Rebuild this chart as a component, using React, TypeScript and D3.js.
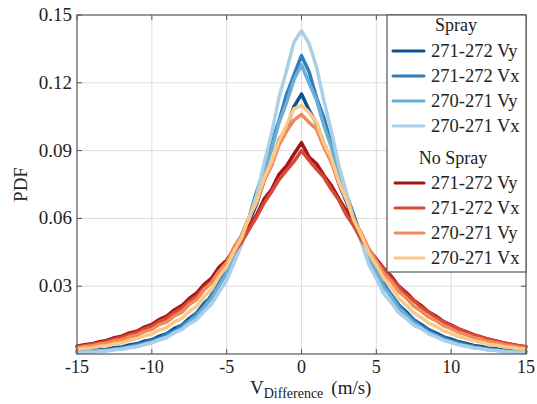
import React from "react";
import * as d3 from "d3";

const W = 537, H = 404;
const M = { left: 77, right: 526, top: 15, bottom: 354 };

const xStart = -15, xStep = 0.5;

// Spray series
const spray271Vy = [
  0.0010,0.0013,0.0014,0.0019,0.0021,0.0028,0.0031,0.0040,0.0045,0.0057,0.0063,0.0079,0.0090,0.0113,0.0127,0.0158,0.0182,0.0224,0.0256,0.0315,0.0365,0.0436,0.0494,0.0585,0.0664,0.0768,0.0842,0.0948,0.1000,0.1095,0.1150,
  0.1080,0.1020,0.0932,0.0856,0.0752,0.0675,0.0575,0.0505,0.0425,0.0372,0.0306,0.0262,0.0217,0.0187,0.0152,0.0131,0.0108,0.0093,0.0076,0.0066,0.0054,0.0047,0.0038,0.0033,0.0026,0.0023,0.0018,0.0015,0.0012,0.0010,
];
const spray271Vx = [
  0.0009,0.0010,0.0013,0.0014,0.0019,0.0021,0.0028,0.0032,0.0041,0.0048,0.0060,0.0070,0.0088,0.0102,0.0127,0.0148,0.0183,0.0212,0.0263,0.0306,0.0374,0.0435,0.0526,0.0604,0.0718,0.0812,0.0938,0.1032,0.1148,0.1235,0.1320,
  0.1250,0.1135,0.1045,0.0925,0.0825,0.0705,0.0615,0.0515,0.0445,0.0365,0.0313,0.0256,0.0218,0.0177,0.0151,0.0123,0.0105,0.0084,0.0072,0.0058,0.0050,0.0039,0.0034,0.0026,0.0022,0.0017,0.0015,0.0012,0.0010,0.0008,
];
const spray270Vy = [
  0.0007,0.0010,0.0010,0.0014,0.0015,0.0021,0.0023,0.0031,0.0035,0.0045,0.0052,0.0066,0.0076,0.0097,0.0113,0.0143,0.0168,0.0209,0.0246,0.0305,0.0356,0.0436,0.0505,0.0606,0.0694,0.0806,0.0905,0.1025,0.1112,0.1215,0.1280,
  0.1200,0.1125,0.1010,0.0915,0.0795,0.0705,0.0595,0.0515,0.0425,0.0365,0.0296,0.0254,0.0202,0.0173,0.0138,0.0117,0.0093,0.0080,0.0063,0.0054,0.0043,0.0037,0.0029,0.0025,0.0019,0.0017,0.0013,0.0011,0.0009,0.0007,
];
const spray270Vx = [
  0.0006,0.0008,0.0008,0.0012,0.0013,0.0019,0.0021,0.0028,0.0032,0.0042,0.0049,0.0062,0.0073,0.0093,0.0108,0.0133,0.0152,0.0189,0.0221,0.0275,0.0326,0.0405,0.0484,0.0596,0.0702,0.0845,0.0975,0.1135,0.1255,0.1380,0.1430,
  0.1375,0.1270,0.1120,0.0985,0.0832,0.0715,0.0585,0.0495,0.0395,0.0334,0.0266,0.0228,0.0182,0.0157,0.0127,0.0112,0.0089,0.0076,0.0060,0.0051,0.0040,0.0034,0.0026,0.0023,0.0017,0.0015,0.0011,0.0009,0.0007,0.0006,
];
// No spray series
const noSpray271Vy = [
  0.0034,0.0041,0.0045,0.0054,0.0060,0.0072,0.0079,0.0093,0.0101,0.0119,0.0131,0.0153,0.0168,0.0195,0.0214,0.0246,0.0270,0.0308,0.0336,0.0385,0.0415,0.0465,0.0505,0.0565,0.0615,0.0685,0.0728,0.0795,0.0832,0.0885,0.0935,
  0.0872,0.0842,0.0790,0.0745,0.0688,0.0632,0.0574,0.0518,0.0462,0.0420,0.0378,0.0344,0.0300,0.0272,0.0238,0.0214,0.0186,0.0167,0.0143,0.0128,0.0111,0.0099,0.0086,0.0076,0.0065,0.0058,0.0049,0.0043,0.0037,0.0032,
];
const noSpray271Vx = [
  0.0031,0.0037,0.0042,0.0049,0.0056,0.0066,0.0073,0.0086,0.0095,0.0111,0.0123,0.0143,0.0159,0.0184,0.0203,0.0233,0.0257,0.0293,0.0322,0.0368,0.0404,0.0452,0.0495,0.0552,0.0606,0.0668,0.0718,0.0772,0.0812,0.0852,0.0900,
  0.0858,0.0818,0.0782,0.0728,0.0681,0.0615,0.0566,0.0505,0.0458,0.0408,0.0375,0.0333,0.0298,0.0263,0.0236,0.0207,0.0184,0.0161,0.0142,0.0124,0.0110,0.0096,0.0085,0.0074,0.0065,0.0056,0.0049,0.0042,0.0037,0.0031,
];
const noSpray270Vy = [
  0.0028,0.0033,0.0036,0.0043,0.0048,0.0058,0.0063,0.0076,0.0083,0.0099,0.0109,0.0130,0.0142,0.0168,0.0185,0.0219,0.0241,0.0285,0.0315,0.0366,0.0405,0.0475,0.0524,0.0606,0.0672,0.0768,0.0832,0.0925,0.0985,0.1035,0.1060,
  0.1025,0.0995,0.0915,0.0848,0.0752,0.0685,0.0595,0.0535,0.0465,0.0412,0.0356,0.0322,0.0276,0.0248,0.0212,0.0190,0.0163,0.0147,0.0125,0.0112,0.0095,0.0086,0.0073,0.0065,0.0055,0.0050,0.0041,0.0037,0.0031,0.0027,
];
const noSpray270Vx = [
  0.0021,0.0025,0.0027,0.0034,0.0037,0.0045,0.0050,0.0060,0.0067,0.0080,0.0088,0.0106,0.0117,0.0142,0.0157,0.0189,0.0211,0.0254,0.0286,0.0345,0.0386,0.0455,0.0514,0.0606,0.0675,0.0778,0.0852,0.0945,0.1012,0.1085,0.1100,
  0.1070,0.1025,0.0932,0.0865,0.0762,0.0685,0.0592,0.0525,0.0446,0.0394,0.0334,0.0294,0.0246,0.0217,0.0182,0.0162,0.0137,0.0122,0.0102,0.0091,0.0077,0.0069,0.0058,0.0052,0.0043,0.0039,0.0032,0.0029,0.0023,0.0021,
];

const xTicks = [-15, -10, -5, 0, 5, 10, 15];
const yTicks = [0.03, 0.06, 0.09, 0.12, 0.15];
const yTickLabels = ["0.03", "0.06", "0.09", "0.12", "0.15"];

const sprayLabels = ["271-272 Vy", "271-272 Vx", "270-271 Vy", "270-271 Vx"];
const noSprayLabels = ["271-272 Vy", "271-272 Vx", "270-271 Vy", "270-271 Vx"];
const sprayColors = ["#0d5193", "#2f7ebc", "#6aaed6", "#a9d0e6"];
const noSprayColors = ["#a81219", "#d54a34", "#f08a5b", "#fbc887"];

const sprayData = [spray271Vy, spray271Vx, spray270Vy, spray270Vx];
const noSprayData = [noSpray271Vy, noSpray271Vx, noSpray270Vy, noSpray270Vx];

export default function App() {
  const x = d3.scaleLinear().domain([-15, 15]).range([M.left, M.right]);
  const y = d3.scaleLinear().domain([0, 0.15]).range([M.bottom, M.top]);
  const line = d3
    .line<number>()
    .x((_, i) => x(xStart + i * xStep))
    .y((d) => y(d));

  const font = "Liberation Serif, Times New Roman, Times, Tinos, Noto Serif, DejaVu Serif, FreeSerif, serif";
  const axisColor = "#555";

  const series = [
    ...sprayData.map((d, i) => ({ d, c: sprayColors[i] })),
    ...noSprayData.map((d, i) => ({ d, c: noSprayColors[i] })),
  ];

  const lgX = 387, lgY = 15, lgW = 526 - 387, lgH = 272 - 15;
  const sprayY = [51, 76, 101, 126];
  const noSprayY = [183, 208, 233, 258];
  const ts = { fontFamily: font };

  return (
    <svg width={W} height={H} style={{ position: "absolute", left: 0, top: 0, background: "#fff", fontFamily: font }}>
      {/* grid */}
      {xTicks.slice(1, -1).map((t) => (
        <line key={"gx" + t} x1={x(t)} x2={x(t)} y1={M.top} y2={M.bottom} stroke="#dcdcdc" strokeWidth={1} />
      ))}
      {yTicks.slice(0, -1).map((t) => (
        <line key={"gy" + t} x1={M.left} x2={M.right} y1={y(t)} y2={y(t)} stroke="#dcdcdc" strokeWidth={1} />
      ))}
      {/* series */}
      <g fill="none" strokeWidth={3.5} strokeLinejoin="round" strokeLinecap="round">
        {series.map((s, i) => (
          <path key={i} d={line(s.d) || ""} stroke={s.c} />
        ))}
      </g>
      {/* frame */}
      <rect x={M.left} y={M.top} width={M.right - M.left} height={M.bottom - M.top} fill="none" stroke={axisColor} strokeWidth={1.2} />
      {/* ticks */}
      {xTicks.map((t) => (
        <g key={"tx" + t}>
          <line x1={x(t)} x2={x(t)} y1={M.bottom} y2={M.bottom - 5} stroke={axisColor} />
          <line x1={x(t)} x2={x(t)} y1={M.top} y2={M.top + 5} stroke={axisColor} />
          <text x={x(t)} y={373} textAnchor="middle" fontSize={18} fill="#222" style={ts}>
            {t < 0 ? "-" + Math.abs(t) : String(t)}
          </text>
        </g>
      ))}
      {yTicks.map((t, i) => (
        <g key={"ty" + t}>
          <line x1={M.left} x2={M.left + 5} y1={y(t)} y2={y(t)} stroke={axisColor} />
          <line x1={M.right} x2={M.right - 5} y1={y(t)} y2={y(t)} stroke={axisColor} />
          <text x={72} y={y(t) + 6} textAnchor="end" fontSize={19} fill="#222" style={ts}>
            {yTickLabels[i]}
          </text>
        </g>
      ))}
      {/* axis labels */}
      <text transform={`translate(27,${(M.top + M.bottom) / 2}) rotate(-90)`} textAnchor="middle" fontSize={19} fill="#222" style={ts}>
        PDF
      </text>
      <text x={250} y={394} fontSize={19} fill="#222" style={ts}>
        V<tspan fontSize={14} dy={4}>Difference</tspan>
        <tspan fontSize={19} dy={-4} dx={8}>(m/s)</tspan>
      </text>
      {/* legend */}
      <rect x={lgX} y={lgY} width={lgW} height={lgH} fill="#fff" stroke={axisColor} strokeWidth={1.2} />
      <text x={456} y={31} textAnchor="middle" fontSize={18} fill="#222" style={ts}>Spray</text>
      {sprayLabels.map((l, i) => (
        <g key={"ls" + i}>
          <line x1={393} x2={424} y1={sprayY[i]} y2={sprayY[i]} stroke={sprayColors[i]} strokeWidth={3} strokeLinecap="round" />
          <text x={431} y={sprayY[i] + 6} fontSize={18.5} fill="#222" style={ts}>{l}</text>
        </g>
      ))}
      <text x={453} y={164} textAnchor="middle" fontSize={18} fill="#222" style={ts}>No Spray</text>
      {noSprayLabels.map((l, i) => (
        <g key={"ln" + i}>
          <line x1={395} x2={424} y1={noSprayY[i]} y2={noSprayY[i]} stroke={noSprayColors[i]} strokeWidth={3} strokeLinecap="round" />
          <text x={431} y={noSprayY[i] + 6} fontSize={18.5} fill="#222" style={ts}>{l}</text>
        </g>
      ))}
    </svg>
  );
}
